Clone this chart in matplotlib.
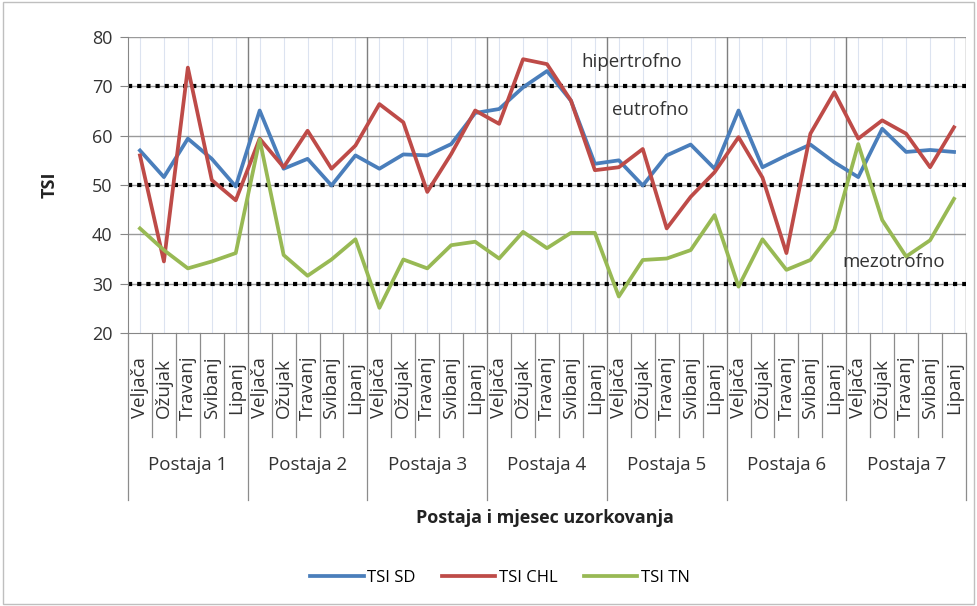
import matplotlib
matplotlib.use("Agg")
import matplotlib.pyplot as plt
from matplotlib.patches import Rectangle
import matplotlib.transforms as mtransforms

plt.rcParams['font.family'] = ['Open Sans', 'DejaVu Sans']

stations = ["Postaja 1", "Postaja 2", "Postaja 3", "Postaja 4", "Postaja 5", "Postaja 6", "Postaja 7"]
months = ["Veljača", "Ožujak", "Travanj", "Svibanj", "Lipanj"]

tsi_sd = [57.0, 51.6, 59.4, 55.3, 49.7,
          65.1, 53.3, 55.3, 49.9, 56.0,
          53.3, 56.2, 56.0, 58.3, 64.6,
          65.4, 69.8, 73.1, 67.1, 54.3,
          55.0, 49.9, 56.0, 58.2, 53.3,
          65.1, 53.6, 56.0, 58.2, 54.6,
          51.6, 61.4, 56.7, 57.1, 56.7]
tsi_chl = [56.0, 34.5, 73.8, 51.0, 46.9,
           59.4, 53.6, 61.0, 53.3, 58.0,
           66.4, 62.7, 48.6, 56.3, 65.1,
           62.4, 75.5, 74.5, 67.1, 53.0,
           53.6, 57.3, 41.2, 47.6, 52.6,
           59.7, 51.5, 36.2, 60.4, 68.8,
           59.4, 63.1, 60.4, 53.6, 61.7]
tsi_tn = [41.2, 36.8, 33.1, 34.5, 36.2,
          59.2, 35.8, 31.6, 34.9, 39.0,
          25.1, 34.9, 33.1, 37.8, 38.5,
          35.1, 40.5, 37.2, 40.3, 40.3,
          27.4, 34.8, 35.1, 36.8, 43.9,
          29.4, 39.0, 32.8, 34.8, 40.9,
          58.3, 42.9, 35.5, 38.8, 47.2]
thresholds = [30, 50, 70]
class_labels = ["hipertrofno", "eutrofno", "mezotrofno"]

W, H = 977, 606
fig = plt.figure(figsize=(W / 100, H / 100), dpi=100)
fig.patches.append(Rectangle((0.003, 0.004), 0.994, 0.992, transform=fig.transFigure,
                             fill=False, edgecolor="#BFBFBF", linewidth=1.0))

L, R, T, B = 128, 966, 37, 333
ax = fig.add_axes([L / W, 1 - B / H, (R - L) / W, (B - T) / H])

n = len(stations) * len(months)
xs = [i + 0.5 for i in range(n)]

ax.set_xlim(0, n)
ax.set_ylim(20, 80)
ax.set_yticks(range(20, 81, 10))
ax.tick_params(axis='y', labelsize=13, length=6, color="#868686", pad=5, labelcolor="#333333")
ax.set_xticks([])
for s in ["top", "right"]:
    ax.spines[s].set_visible(False)
ax.spines["left"].set_color("#868686")
ax.spines["bottom"].set_color("#868686")

# faint category lines
for x in xs:
    ax.axvline(x, color="#DCE3F0", linewidth=0.8, zorder=0)
# horizontal gridlines
for y in range(30, 81, 10):
    ax.axhline(y, color="#9A9A9A", linewidth=1.0, zorder=1)
# station separators
for k in range(1, len(stations) + 1):
    ax.axvline(k * len(months), color="#7F7F7F", linewidth=1.0, zorder=1)
# threshold dotted lines
for t in thresholds:
    ax.axhline(t, color="black", linewidth=3.0, linestyle=(0, (1, 1.2)), zorder=2)

ax.plot(xs, tsi_sd, color="#4A7EBB", linewidth=2.7, label="TSI SD", zorder=3)
ax.plot(xs, tsi_chl, color="#BE4B48", linewidth=2.7, label="TSI CHL", zorder=4)
ax.plot(xs, tsi_tn, color="#98B954", linewidth=2.7, label="TSI TN", zorder=5)

ax.text(21.05, 74.9, class_labels[0], fontsize=13.5, ha="center", va="center", color="#333333", zorder=6)
ax.text(21.8, 65.2, class_labels[1], fontsize=13.5, ha="center", va="center", color="#333333", zorder=6)
ax.text(32.0, 34.4, class_labels[2], fontsize=13.5, ha="center", va="center", color="#333333", zorder=6)

# category axis below
trans = mtransforms.blended_transform_factory(ax.transData, ax.transAxes)
ph = B - T
y_month_sep = -(437 - B) / ph
y_station_sep = -(500 - B) / ph
for i in range(n + 1):
    if i % len(months) == 0:
        ax.plot([i, i], [0, y_station_sep], transform=trans, color="#8C8C8C", linewidth=0.9, clip_on=False)
    else:
        ax.plot([i, i], [0, y_month_sep], transform=trans, color="#8C8C8C", linewidth=0.9, clip_on=False)
for i, x in enumerate(xs):
    ax.text(x, -(388 - B) / ph, months[i % len(months)], rotation=90, ha="center", va="center",
            fontsize=13.5, transform=trans, color="#333333")
for k, st in enumerate(stations):
    ax.text(k * len(months) + len(months) / 2, -(465 - B) / ph, st, ha="center", va="center",
            fontsize=13.5, transform=trans, color="#333333")

fig.text(545 / W, 1 - 518 / H, "Postaja i mjesec uzorkovanja", ha="center", va="center",
         fontsize=13, fontweight="bold", color="#222222")
fig.text(50 / W, 1 - 185 / H, "TSI", ha="center", va="center", rotation=90,
         fontsize=13, fontweight="bold", color="#222222")

fig.legend(loc="center", bbox_to_anchor=(500 / W, 1 - 578 / H), ncol=3, frameon=False,
           fontsize=12, handlelength=3.2, columnspacing=1.6, handletextpad=0.2)

fig.savefig("out.png", dpi=100)
